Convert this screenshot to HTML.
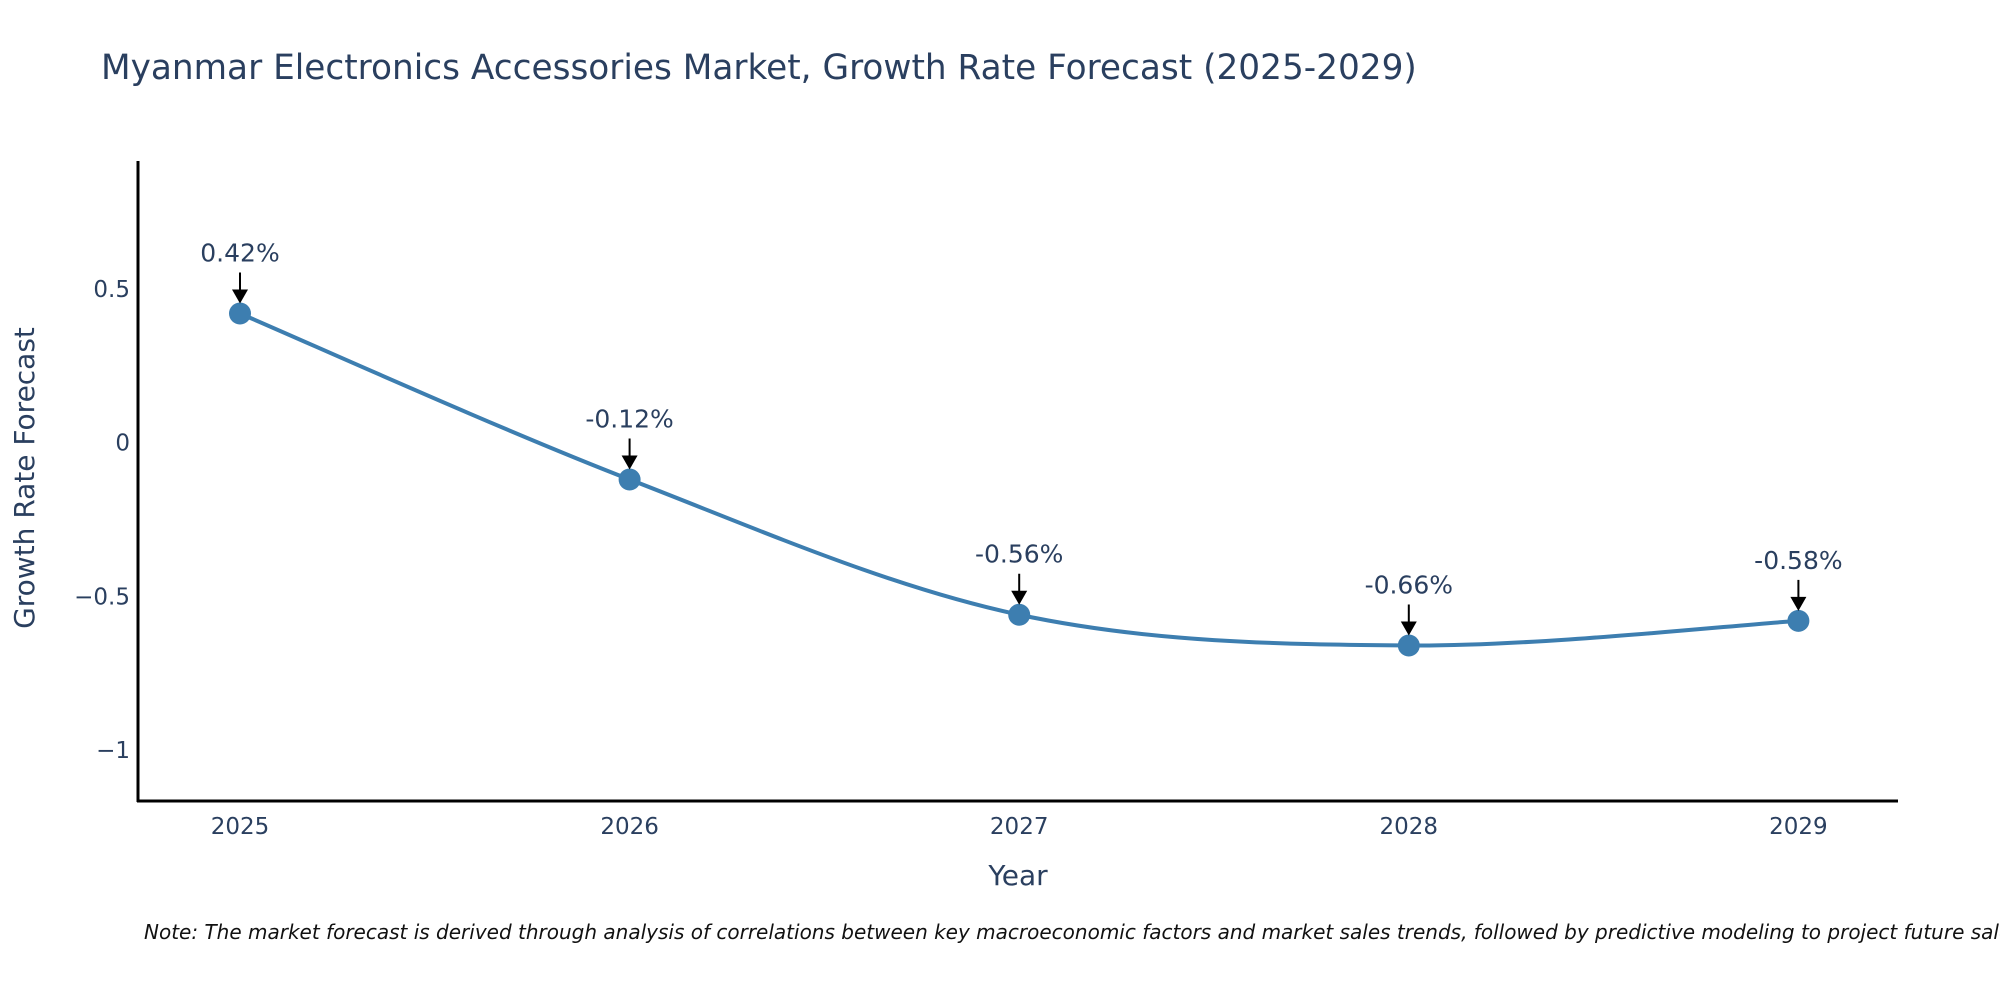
<!DOCTYPE html>
<html><head><meta charset="utf-8"><style>
body{margin:0;background:#fff;}
svg{display:block;font-family:"DejaVu Sans","Liberation Sans",sans-serif;}
</style></head><body>
<svg id="chart" width="2000" height="1000">
<text x="101" y="79" font-size="34.3" fill="#2a3f5f">Myanmar Electronics Accessories Market, Growth Rate Forecast (2025-2029)</text>
<text x="1018" y="885" font-size="28" fill="#2a3f5f" text-anchor="middle">Year</text>
<text x="0" y="0" font-size="28" fill="#2a3f5f" text-anchor="middle" transform="translate(34,478) rotate(-90)">Growth Rate Forecast</text>
<text x="144" y="939" font-size="20" font-style="italic" fill="#111">Note: The market forecast is derived through analysis of correlations between key macroeconomic factors and market sales trends, followed by predictive modeling to project future sales.</text>
<g id="plot"></g>
</svg>
<script>
const years = [2025, 2026, 2027, 2028, 2029];
const growth = [0.42, -0.12, -0.56, -0.66, -0.58];
const labels = ["0.42%", "-0.12%", "-0.56%", "-0.66%", "-0.58%"];
const yTicks = [0.5, 0, -0.5, -1];
const yTickLabels = ["0.5", "0", "\u22120.5", "\u22121"];

const NS = "http://www.w3.org/2000/svg";
const g = document.getElementById('plot');
function xS(v){ return 240 + (v - 2025) * 389.6; }
function yS(v){ return 442.6 - v * 307.4; }
function mk(t, a){ const e = document.createElementNS(NS, t); for (const k in a) e.setAttribute(k, a[k]); g.appendChild(e); return e; }

let e = mk('line', {x1:138, y1:161, x2:138, y2:802, stroke:'#000', 'stroke-width':3});


e = mk('line', {x1:137, y1:801, x2:1898, y2:801, stroke:'#000', 'stroke-width':3});



yTicks.forEach((v, i) => {
  const t = mk('text', {x:130, y:yS(v) + 8, 'font-size':23, fill:'#2a3f5f', 'text-anchor':'end'});
  t.textContent = yTickLabels[i];
  
  
});
years.forEach(v => {
  const t = mk('text', {x:xS(v), y:834, 'font-size':23, fill:'#2a3f5f', 'text-anchor':'middle'});
  t.textContent = String(v);
  
  
});

const pts = years.map((y, i) => [xS(y), yS(growth[i])]);
let d = 'M' + pts[0][0] + ',' + pts[0][1];
for (let i = 0; i < pts.length - 1; i++) {
  const p0 = pts[Math.max(i - 1, 0)], p1 = pts[i], p2 = pts[i + 1], p3 = pts[Math.min(i + 2, pts.length - 1)];
  const s = 6;
  const c1 = [p1[0] + (p2[0] - p0[0]) / s, p1[1] + (p2[1] - p0[1]) / s];
  const c2 = [p2[0] - (p3[0] - p1[0]) / s, p2[1] - (p3[1] - p1[1]) / s];
  d += ' C' + c1 + ' ' + c2 + ' ' + p2;
}
e = mk('path', {d:d, fill:'none', stroke:'#3d7eb0', 'stroke-width':4});



pts.forEach((p, i) => {
  const c = mk('circle', {cx:p[0], cy:p[1], r:11, fill:'#3d7eb0'});
  
  
  const l = mk('line', {x1:p[0], y1:p[1] - 41, x2:p[0], y2:p[1] - 22, stroke:'#000', 'stroke-width':2});
  
  
  const h = mk('polygon', {points:`${p[0]-8},${p[1]-24} ${p[0]+8},${p[1]-24} ${p[0]},${p[1]-10}`, fill:'#000'});
  
  
  const t = mk('text', {x:p[0], y:p[1] - 52, 'font-size':25, fill:'#2a3f5f', 'text-anchor':'middle'});
  t.textContent = labels[i];
  
  
});
</script>
</body></html>
